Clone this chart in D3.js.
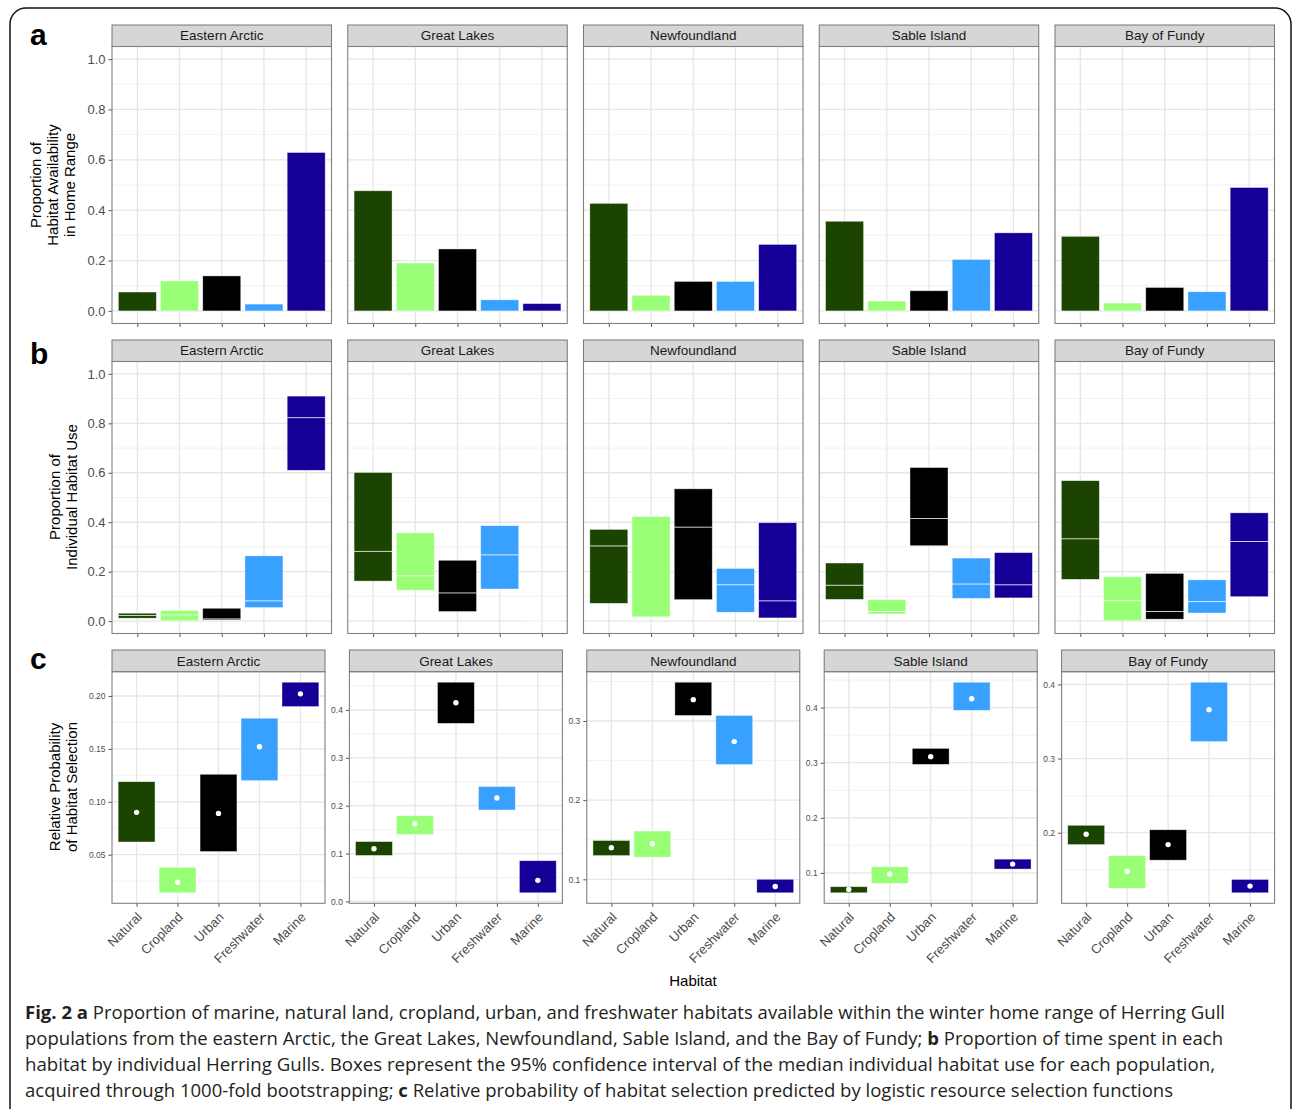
<!DOCTYPE html>
<html>
<head>
<meta charset="utf-8">
<script src="https://cdn.jsdelivr.net/npm/d3@7"></script>
<style>
  body { margin: 0; background: #fff; }
  text { font-family: "Liberation Sans", Arial, sans-serif; }
</style>
</head>
<body>
<div id="fig"></div>
<script>
// categories
var habitats = ["Natural", "Cropland", "Urban", "Freshwater", "Marine"];
var populations = ["Eastern Arctic", "Great Lakes", "Newfoundland", "Sable Island", "Bay of Fundy"];
var habitatColors = ["#1a4400", "#99ff77", "#000000", "#38a0ff", "#140097"];

// a: proportion of habitat available in home range (one row per population)
var availability = [
  [0.075, 0.119, 0.139, 0.027, 0.629],
  [0.477, 0.190, 0.246, 0.044, 0.029],
  [0.427, 0.062, 0.117, 0.117, 0.264],
  [0.356, 0.039, 0.080, 0.204, 0.310],
  [0.296, 0.031, 0.093, 0.076, 0.490]
];

// b: median individual habitat use with 95% CI
var useLower = [
  [0.012, 0.002, 0.005, 0.055, 0.610],
  [0.162, 0.125, 0.039, 0.130, 0.000],
  [0.072, 0.015, 0.087, 0.036, 0.013],
  [0.088, 0.029, 0.305, 0.092, 0.094],
  [0.169, 0.002, 0.008, 0.033, 0.099]
];
var useMedian = [
  [0.023, 0.025, 0.009, 0.082, 0.823],
  [0.282, 0.183, 0.114, 0.268, 0.000],
  [0.304, 0.017, 0.380, 0.147, 0.082],
  [0.145, 0.039, 0.415, 0.150, 0.147],
  [0.333, 0.083, 0.039, 0.079, 0.322]
];
var useUpper = [
  [0.032, 0.043, 0.052, 0.264, 0.910],
  [0.601, 0.357, 0.246, 0.386, 0.000],
  [0.371, 0.423, 0.535, 0.213, 0.398],
  [0.235, 0.086, 0.621, 0.255, 0.277],
  [0.568, 0.179, 0.193, 0.167, 0.438]
];

// c: relative probability of selection with CI
var selLower = [
  [0.062, 0.014, 0.053, 0.120, 0.190],
  [0.096, 0.140, 0.372, 0.191, 0.018],
  [0.130, 0.128, 0.307, 0.245, 0.083],
  [0.064, 0.081, 0.297, 0.395, 0.107],
  [0.184, 0.125, 0.163, 0.323, 0.119]
];
var selFit = [
  [0.090, 0.024, 0.089, 0.152, 0.202],
  [0.110, 0.162, 0.415, 0.216, 0.044],
  [0.140, 0.145, 0.327, 0.274, 0.091],
  [0.070, 0.098, 0.311, 0.416, 0.116],
  [0.198, 0.148, 0.184, 0.366, 0.128]
];
var selUpper = [
  [0.119, 0.038, 0.126, 0.179, 0.213],
  [0.125, 0.179, 0.458, 0.240, 0.085],
  [0.149, 0.161, 0.349, 0.307, 0.100],
  [0.075, 0.111, 0.326, 0.446, 0.125],
  [0.210, 0.169, 0.204, 0.403, 0.137]
];

// tick labels
var propTicks = [0, 0.2, 0.4, 0.6, 0.8, 1.0];
var selTicks = [
  [0.05, 0.10, 0.15, 0.20],
  [0.0, 0.1, 0.2, 0.3, 0.4],
  [0.1, 0.2, 0.3],
  [0.1, 0.2, 0.3, 0.4],
  [0.2, 0.3, 0.4]
];
var selTickFormat = [".2f", ".1f", ".1f", ".1f", ".1f"];

var captionLines = [
  [["Fig. 2 a", true], [" Proportion of marine, natural land, cropland, urban, and freshwater habitats available within the winter home range of Herring Gull", false]],
  [["populations from the eastern Arctic, the Great Lakes, Newfoundland, Sable Island, and the Bay of Fundy; ", false], ["b", true], [" Proportion of time spent in each", false]],
  [["habitat by individual Herring Gulls. Boxes represent the 95% confidence interval of the median individual habitat use for each population,", false]],
  [["acquired through 1000-fold bootstrapping; ", false], ["c", true], [" Relative probability of habitat selection predicted by logistic resource selection functions", false]]
];
var captionWidths = [1200, 1198, 1190, 1148];

var W = 1293, H = 1109;
var svg = d3.select("#fig").append("svg")
  .attr("width", W)
  .attr("height", H);

// outer frame
svg.append("rect")
  .attr("x", 10).attr("y", 8)
  .attr("width", 1281).attr("height", 1130)
  .attr("rx", 16)
  .attr("fill", "none")
  .attr("stroke", "#111")
  .attr("stroke-width", 1.5);

// minor breaks: midpoints between majors, plus one step outside if inside the domain
function minorBreaks(majors, domain) {
  var step = majors[1] - majors[0];
  var out = [];
  for (var i = -1; i < majors.length; i++) {
    var m = majors[0] + (i + 0.5) * step;
    if (m >= domain[0] && m <= domain[1]) out.push(m);
  }
  return out;
}

// draws one facet: strip, grid, axes; returns scales for the marks
function facet(o) {
  var g = svg.append("g");
  var x = d3.scalePoint().domain(habitats)
    .range([o.left, o.left + o.width]).padding(0.6);
  var y = d3.scaleLinear().domain(o.domain)
    .range([o.bottom, o.top + o.stripH]);

  g.append("rect")
    .attr("x", o.left).attr("y", o.top + o.stripH)
    .attr("width", o.width).attr("height", o.bottom - o.top - o.stripH)
    .attr("fill", "#fff");

  g.selectAll(".minor").data(minorBreaks(o.ticks, o.domain)).enter()
    .append("line")
    .attr("x1", o.left).attr("x2", o.left + o.width)
    .attr("y1", function(d) { return y(d); })
    .attr("y2", function(d) { return y(d); })
    .attr("stroke", "#ececec").attr("stroke-width", 0.7);

  g.selectAll(".major").data(o.ticks).enter()
    .append("line")
    .attr("x1", o.left).attr("x2", o.left + o.width)
    .attr("y1", function(d) { return y(d); })
    .attr("y2", function(d) { return y(d); })
    .attr("stroke", "#e6e6e6").attr("stroke-width", 1.3);

  g.selectAll(".vgrid").data(habitats).enter()
    .append("line")
    .attr("x1", function(d) { return x(d); })
    .attr("x2", function(d) { return x(d); })
    .attr("y1", o.top + o.stripH).attr("y2", o.bottom)
    .attr("stroke", "#e6e6e6").attr("stroke-width", 1.3);

  // y axis (only where the facet has its own scale or is first in the row)
  if (o.showY) {
    var yAxis = d3.axisLeft(y).tickValues(o.ticks)
      .tickFormat(d3.format(o.fmt)).tickSize(3.5).tickPadding(3);
    var ya = svg.append("g").attr("transform", "translate(" + o.left + ",0)").call(yAxis);
    ya.select(".domain").remove();
    ya.selectAll("line").attr("stroke", "#555");
    ya.selectAll("text").attr("fill", "#4d4d4d")
      .style("font-size", o.yFont + "px");
  }

  // x axis
  var xAxis = d3.axisBottom(x).tickSize(3.5).tickFormat(o.xLabels ? null : "");
  var xa = svg.append("g").attr("transform", "translate(0," + o.bottom + ")").call(xAxis);
  xa.select(".domain").remove();
  xa.selectAll("line").attr("stroke", "#555");
  if (o.xLabels) {
    xa.selectAll("text")
      .attr("fill", "#4d4d4d")
      .style("font-size", "13px")
      .attr("text-anchor", "end")
      .attr("y", 0).attr("dy", "0.72em")
      .attr("transform", function() { return "translate(-1,8) rotate(-45)"; });
  } else {
    xa.selectAll("text").remove();
  }

  // strip
  svg.append("rect")
    .attr("x", o.left).attr("y", o.top)
    .attr("width", o.width).attr("height", o.stripH)
    .attr("fill", "#d6d6d6")
    .attr("stroke", "#777").attr("stroke-width", 1);
  svg.append("text")
    .attr("x", o.left + o.width / 2)
    .attr("y", o.top + o.stripH / 2)
    .attr("dy", "0.35em")
    .attr("text-anchor", "middle")
    .style("font-size", "13.5px")
    .attr("fill", "#1a1a1a")
    .text(o.title);

  var marks = svg.append("g");
  // border drawn on top afterwards
  var finish = function() {
    svg.append("rect")
      .attr("x", o.left).attr("y", o.top + o.stripH)
      .attr("width", o.width).attr("height", o.bottom - o.top - o.stripH)
      .attr("fill", "none")
      .attr("stroke", "#808080").attr("stroke-width", 1.1);
  };
  return { x: x, y: y, g: marks, band: x.step() * 0.9, finish: finish };
}

var rowsAB = { left0: 112, step: 235.75, width: 219.5 };
var rowC = { left0: 112, step: 237.4, width: 213 };

// panel a
populations.forEach(function(pop, p) {
  var f = facet({
    left: rowsAB.left0 + p * rowsAB.step, width: rowsAB.width,
    top: 25, stripH: 21.5, bottom: 323.5,
    domain: [-0.05, 1.05], ticks: propTicks, fmt: ".1f", yFont: 13,
    title: pop, xLabels: false, showY: p === 0
  });
  f.g.selectAll("rect").data(availability[p]).enter()
    .append("rect")
    .attr("x", function(d, i) { return f.x(habitats[i]) - f.band / 2; })
    .attr("width", f.band)
    .attr("y", function(d) { return f.y(d); })
    .attr("height", function(d) { return f.y(0) - f.y(d); })
    .attr("fill", function(d, i) { return habitatColors[i]; })
    .attr("stroke", "rgba(255,255,255,0.55)").attr("stroke-width", 0.7);
  f.finish();
});

// panel b
populations.forEach(function(pop, p) {
  var f = facet({
    left: rowsAB.left0 + p * rowsAB.step, width: rowsAB.width,
    top: 340, stripH: 21.5, bottom: 633.5,
    domain: [-0.05, 1.05], ticks: propTicks, fmt: ".1f", yFont: 13,
    title: pop, xLabels: false, showY: p === 0
  });
  f.g.selectAll("rect").data(habitats).enter()
    .append("rect")
    .attr("x", function(d) { return f.x(d) - f.band / 2; })
    .attr("width", f.band)
    .attr("y", function(d, i) { return f.y(useUpper[p][i]); })
    .attr("height", function(d, i) { return f.y(useLower[p][i]) - f.y(useUpper[p][i]); })
    .attr("fill", function(d, i) { return habitatColors[i]; })
    .attr("stroke", "rgba(255,255,255,0.55)").attr("stroke-width", 0.7);
  f.g.selectAll("line").data(habitats).enter()
    .append("line")
    .attr("x1", function(d) { return f.x(d) - f.band / 2; })
    .attr("x2", function(d) { return f.x(d) + f.band / 2; })
    .attr("y1", function(d, i) { return f.y(useMedian[p][i]); })
    .attr("y2", function(d, i) { return f.y(useMedian[p][i]); })
    .attr("stroke", "rgba(255,255,255,0.8)").attr("stroke-width", 1);
  f.finish();
});

// panel c
populations.forEach(function(pop, p) {
  var lo = d3.min(selLower[p]), hi = d3.max(selUpper[p]);
  var pad = (hi - lo) * 0.05;
  var f = facet({
    left: rowC.left0 + p * rowC.step, width: rowC.width,
    top: 650, stripH: 21.7, bottom: 903.3,
    domain: [lo - pad, hi + pad], ticks: selTicks[p], fmt: selTickFormat[p], yFont: 8.5,
    title: pop, xLabels: true, showY: true
  });
  f.g.selectAll("rect").data(habitats).enter()
    .append("rect")
    .attr("x", function(d) { return f.x(d) - f.band / 2; })
    .attr("width", f.band)
    .attr("y", function(d, i) { return f.y(selUpper[p][i]); })
    .attr("height", function(d, i) { return f.y(selLower[p][i]) - f.y(selUpper[p][i]); })
    .attr("fill", function(d, i) { return habitatColors[i]; })
    .attr("stroke", "rgba(255,255,255,0.55)").attr("stroke-width", 0.7);
  f.g.selectAll("circle").data(habitats).enter()
    .append("circle")
    .attr("cx", function(d) { return f.x(d); })
    .attr("cy", function(d, i) { return f.y(selFit[p][i]); })
    .attr("r", 2.7)
    .attr("fill", "#fff");
  f.finish();
});

// panel letters
[["a", 45], ["b", 364], ["c", 669]].forEach(function(l) {
  svg.append("text")
    .attr("x", 30).attr("y", l[1])
    .style("font-size", "30px").style("font-weight", "bold")
    .attr("fill", "#000")
    .text(l[0]);
});

// y titles
function yTitle(lines, xs, cy) {
  lines.forEach(function(t, i) {
    svg.append("text")
      .attr("transform", "translate(" + xs[i] + "," + cy + ") rotate(-90)")
      .attr("text-anchor", "middle")
      .attr("dy", "0.35em")
      .style("font-size", "15px")
      .attr("fill", "#000")
      .text(t);
  });
}
yTitle(["Proportion of", "Habitat Availability", "in Home Range"], [36, 53, 70], 185);
yTitle(["Proportion of", "Individual Habitat Use"], [55, 72], 497);
yTitle(["Relative Probability", "of Habitat Selection"], [55, 72], 787);

svg.append("text")
  .attr("x", 693).attr("y", 986)
  .attr("text-anchor", "middle")
  .style("font-size", "15px")
  .attr("fill", "#000")
  .text("Habitat");

// caption
captionLines.forEach(function(line, i) {
  var t = svg.append("text")
    .attr("x", 25).attr("y", 1019 + i * 26)
    .attr("textLength", captionWidths[i])
    .attr("lengthAdjust", "spacingAndGlyphs")
    .style("font-family", "'Open Sans', sans-serif")
    .style("font-size", "18.5px")
    .attr("fill", "#231f20");
  line.forEach(function(seg) {
    t.append("tspan")
      .style("font-weight", seg[1] ? "bold" : "normal")
      .text(seg[0]);
  });
});
</script>
</body>
</html>
